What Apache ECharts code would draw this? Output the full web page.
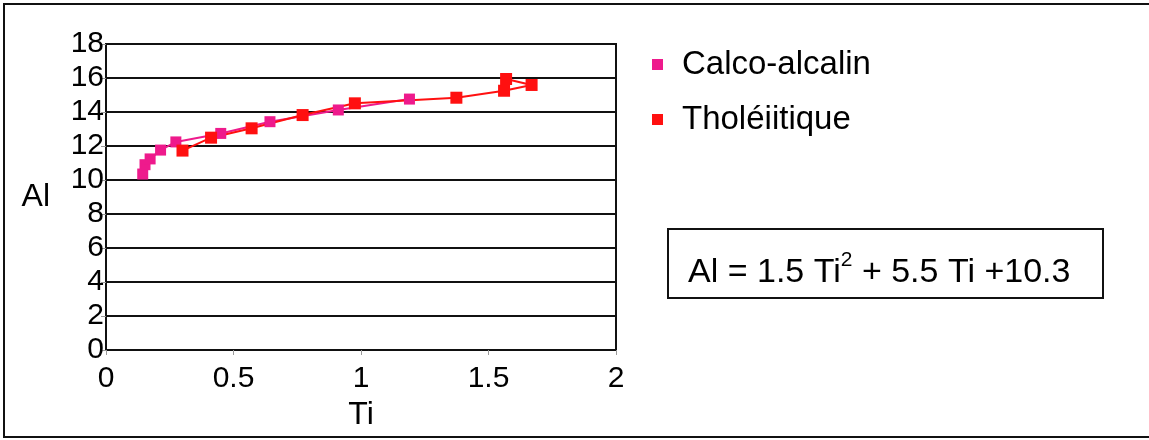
<!DOCTYPE html>
<html><head><meta charset="utf-8">
<script src="https://cdn.jsdelivr.net/npm/echarts@6/dist/echarts.min.js"></script>
<style>html,body{margin:0;padding:0;background:#fff}#c{width:1149px;height:440px}</style>
</head><body><div id="c"></div>
<script>
const seriesNames = ['Calco-alcalin', 'Tholéiitique'];
const calcoTi = [0.144, 0.153, 0.173, 0.214, 0.274, 0.45, 0.643, 0.911, 1.19];
const calcoAl = [10.35, 10.9, 11.24, 11.76, 12.24, 12.74, 13.43, 14.12, 14.76];
const tholTi = [0.30, 0.412, 0.571, 0.771, 0.976, 1.374, 1.561, 1.669, 1.569];
const tholAl = [11.73, 12.49, 13.04, 13.82, 14.51, 14.84, 15.25, 15.59, 15.94];
const equation = 'Al = 1.5 Ti';
const font = 'Liberation Sans, Arial, sans-serif';

const chart = echarts.init(document.getElementById('c'), null, {renderer: 'canvas'});
const zip = (a, b) => a.map((v, i) => [v, b[i]]);
chart.setOption({
  animation: false,
  backgroundColor: '#fff',
  grid: {left: 106, top: 44, width: 510, height: 306, show: true, borderColor: '#111', borderWidth: 2},
  legend: {
    orient: 'vertical', left: 647, top: 43, itemWidth: 11, itemHeight: 11, itemGap: 22,
    icon: 'rect',
    textStyle: {fontSize: 33, fontFamily: font, color: '#000', padding: [0, 0, 0, 14]},
    data: seriesNames
  },
  xAxis: {
    type: 'value', min: 0, max: 2, interval: 0.5,
    name: 'Ti', nameLocation: 'middle', nameGap: 46,
    nameTextStyle: {fontSize: 32, fontFamily: font, color: '#000'},
    axisLine: {show: true, lineStyle: {color: '#111', width: 2}},
    axisTick: {show: true, length: 5, lineStyle: {color: '#999'}},
    axisLabel: {fontSize: 30, fontFamily: font, color: '#000', margin: 14},
    splitLine: {show: false}
  },
  yAxis: {
    type: 'value', min: 0, max: 18, interval: 2,
    name: 'Al', nameLocation: 'middle', nameGap: 56, nameRotate: 0,
    nameTextStyle: {fontSize: 32, fontFamily: font, color: '#000'},
    axisLine: {show: true, lineStyle: {color: '#111', width: 2}},
    axisTick: {show: true, length: 5, lineStyle: {color: '#999'}},
    axisLabel: {fontSize: 30, fontFamily: font, color: '#000', margin: 2},
    splitLine: {show: true, lineStyle: {color: '#111', width: 2}}
  },
  series: [
    {name: seriesNames[0], type: 'line', data: zip(calcoTi, calcoAl), symbol: 'rect', symbolSize: 11,
     itemStyle: {color: '#EE1A8C'}, lineStyle: {color: '#EE1A8C', width: 2}},
    {name: seriesNames[1], type: 'line', data: zip(tholTi, tholAl), symbol: 'rect', symbolSize: 12,
     itemStyle: {color: '#FF1010'}, lineStyle: {color: '#FF1010', width: 2}}
  ],
  graphic: [
    {type: 'rect', shape: {x: 4, y: 4, width: 1160, height: 433}, style: {fill: 'none', stroke: '#111', lineWidth: 2}},
    {type: 'rect', shape: {x: 668, y: 229, width: 435, height: 69}, style: {fill: '#fff', stroke: '#111', lineWidth: 2}},
    {type: 'text', x: 688, y: 250, style: {
      text: '{m|' + equation + '}{s|2}{m| + 5.5 Ti +10.3}',
      rich: {
        m: {fontSize: 34, fontFamily: font, fill: '#000', verticalAlign: 'bottom', lineHeight: 40},
        s: {fontSize: 21, fontFamily: font, fill: '#000', verticalAlign: 'top', lineHeight: 40, padding: [0, 0, 12, 0]}
      }
    }}
  ]
});
</script></body></html>
